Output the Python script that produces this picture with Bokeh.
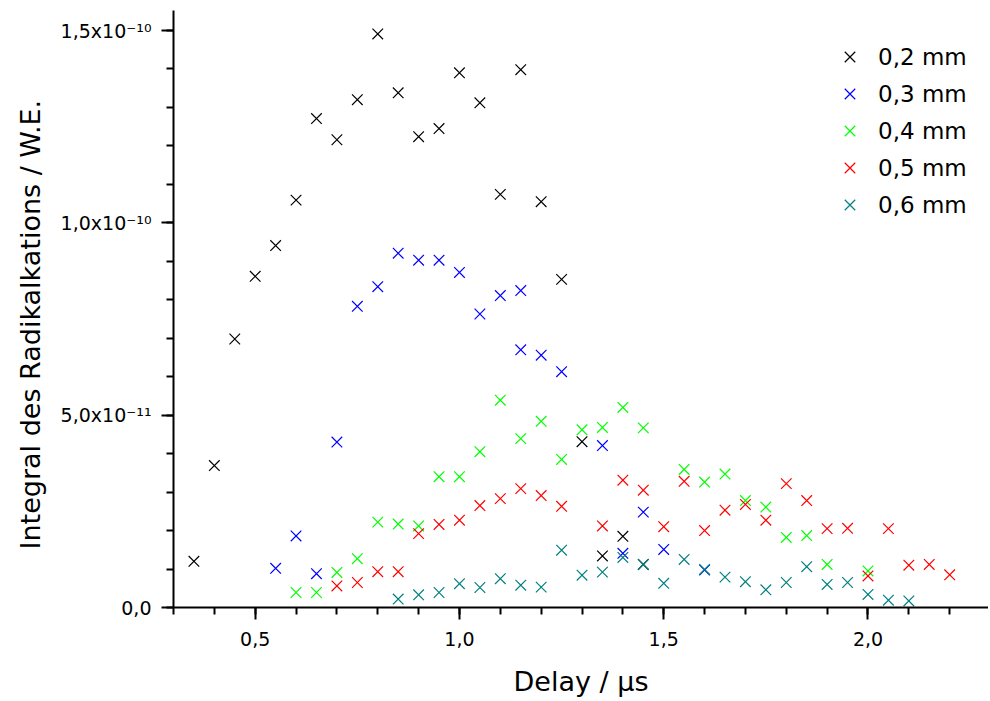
from bokeh.plotting import figure
from bokeh.models import Range1d, FixedTicker, Legend, LegendItem, Title
from bokeh.embed import file_html
from bokeh.resources import INLINE

# ---- data ----
series_labels = ["0,2 mm", "0,3 mm", "0,4 mm", "0,5 mm", "0,6 mm"]
series_colors = ["#000000", "#0000FF", "#00FF00", "#FF0000", "#008080"]

x_02 = [0.35, 0.40, 0.45, 0.50, 0.55, 0.60, 0.65, 0.70, 0.75, 0.80, 0.85, 0.90,
        0.95, 1.00, 1.05, 1.10, 1.15, 1.20, 1.25, 1.30, 1.35, 1.40, 1.45]
y_02 = [1.20e-11, 3.69e-11, 6.98e-11, 8.61e-11, 9.41e-11, 1.059e-10, 1.271e-10,
        1.216e-10, 1.32e-10, 1.491e-10, 1.338e-10, 1.224e-10, 1.245e-10, 1.39e-10,
        1.312e-10, 1.074e-10, 1.398e-10, 1.055e-10, 8.53e-11, 4.31e-11, 1.34e-11,
        1.85e-11, 1.12e-11]

x_03 = [0.55, 0.60, 0.65, 0.70, 0.75, 0.80, 0.85, 0.90, 0.95, 1.00, 1.05, 1.10,
        1.15, 1.15, 1.20, 1.25, 1.35, 1.40, 1.45, 1.50, 1.60]
y_03 = [1.02e-11, 1.86e-11, 8.8e-12, 4.30e-11, 7.83e-11, 8.34e-11, 9.21e-11,
        9.03e-11, 9.03e-11, 8.71e-11, 7.63e-11, 8.11e-11, 8.24e-11, 6.70e-11,
        6.56e-11, 6.13e-11, 4.21e-11, 1.41e-11, 2.48e-11, 1.51e-11, 9.75e-12]

x_04 = [0.60, 0.65, 0.70, 0.75, 0.80, 0.85, 0.90, 0.95, 1.00, 1.05, 1.10, 1.15,
        1.20, 1.25, 1.30, 1.35, 1.40, 1.45, 1.55, 1.60, 1.65, 1.70, 1.75, 1.80,
        1.85, 1.90, 2.00]
y_04 = [3.9e-12, 3.9e-12, 9.1e-12, 1.27e-11, 2.22e-11, 2.17e-11, 2.12e-11,
        3.40e-11, 3.40e-11, 4.05e-11, 5.39e-11, 4.39e-11, 4.84e-11, 3.85e-11,
        4.62e-11, 4.68e-11, 5.20e-11, 4.67e-11, 3.59e-11, 3.26e-11, 3.47e-11,
        2.78e-11, 2.61e-11, 1.82e-11, 1.87e-11, 1.12e-11, 9.5e-12]

x_05 = [0.70, 0.75, 0.80, 0.85, 0.90, 0.95, 1.00, 1.05, 1.10, 1.15, 1.20, 1.25,
        1.35, 1.40, 1.45, 1.50, 1.55, 1.60, 1.65, 1.70, 1.75, 1.80, 1.85, 1.90,
        1.95, 2.00, 2.05, 2.10, 2.15, 2.20]
y_05 = [5.6e-12, 6.5e-12, 9.3e-12, 9.3e-12, 1.92e-11, 2.16e-11, 2.27e-11,
        2.65e-11, 2.83e-11, 3.09e-11, 2.91e-11, 2.63e-11, 2.12e-11, 3.31e-11,
        3.05e-11, 2.10e-11, 3.28e-11, 2.00e-11, 2.53e-11, 2.68e-11, 2.27e-11,
        3.22e-11, 2.78e-11, 2.05e-11, 2.06e-11, 8.2e-12, 2.05e-11, 1.10e-11,
        1.12e-11, 8.5e-12]

x_06 = [0.85, 0.90, 0.95, 1.00, 1.05, 1.10, 1.15, 1.20, 1.25, 1.30, 1.35, 1.40,
        1.45, 1.50, 1.55, 1.60, 1.65, 1.70, 1.75, 1.80, 1.85, 1.90, 1.95, 2.00,
        2.05, 2.10]
y_06 = [2.2e-12, 3.3e-12, 3.9e-12, 6.2e-12, 5.2e-12, 7.5e-12, 5.8e-12, 5.3e-12,
        1.49e-11, 8.4e-12, 9.2e-12, 1.30e-11, 1.12e-11, 6.3e-12, 1.25e-11,
        9.9e-12, 7.9e-12, 6.7e-12, 4.6e-12, 6.5e-12, 1.06e-11, 6.0e-12, 6.5e-12,
        3.4e-12, 1.9e-12, 1.7e-12]

x_major_ticks = [0.5, 1.0, 1.5, 2.0]
x_tick_labels = ["0,5", "1,0", "1,5", "2,0"]
x_minor_ticks = [0.3, 0.4, 0.5, 0.6, 0.7, 0.8, 0.9, 1.0, 1.1, 1.2, 1.3, 1.4,
                 1.5, 1.6, 1.7, 1.8, 1.9, 2.0, 2.1, 2.2]
y_major_ticks = [0.0, 5e-11, 1e-10, 1.5e-10]
y_tick_labels = ["0,0", "5,0x10\u207b\u00b9\u00b9", "1,0x10\u207b\u00b9\u2070",
                 "1,5x10\u207b\u00b9\u2070"]
y_minor_ticks = [i * 1e-11 for i in range(0, 16)]

x_title = "Delay / \u00b5s"
y_title = "Integral des Radikalkations / W.E."

FONT = "DejaVu Sans"
X_START, X_END = 0.3, 2.295
Y_START, Y_END = 0.0, 1.552e-10

p = figure(width=988, height=699, output_backend="svg", toolbar_location=None,
           x_range=Range1d(X_START, X_END), y_range=Range1d(Y_START, Y_END),
           min_border_left=172, min_border_right=0, min_border_top=10,
           min_border_bottom=91)
p.outline_line_color = None
p.grid.visible = False
p.background_fill_color = "white"
p.border_fill_color = "white"

xs = [x_02, x_03, x_04, x_05, x_06]
ys = [y_02, y_03, y_04, y_05, y_06]
items = []
for xv, yv, col, lab in zip(xs, ys, series_colors, series_labels):
    r = p.scatter(xv, yv, marker="x", size=15, line_color=col, line_width=1.2)
    items.append(LegendItem(label=lab, renderers=[r]))

legend = Legend(items=items, location=(658, 384), padding=0, margin=0,
                border_line_color=None, background_fill_alpha=0,
                label_text_font=FONT, label_text_font_size="23px",
                label_text_color="black",
                label_standoff=10, glyph_width=37, glyph_height=37,
                label_height=37, spacing=0)
p.add_layout(legend)

for ax in (p.xaxis[0], p.yaxis[0]):
    ax.axis_line_width = 2
    ax.major_tick_line_width = 2
    ax.minor_tick_line_width = 2
    ax.major_tick_out = 12
    ax.major_tick_in = 0
    ax.minor_tick_out = 7
    ax.minor_tick_in = 0
    ax.major_label_text_font = FONT
    ax.major_label_text_font_size = "19px"
    ax.major_label_text_color = "black"
    ax.axis_label_text_font = FONT
    ax.axis_label_text_font_size = "27px"
    ax.axis_label_text_font_style = "normal"
    ax.axis_label_text_color = "black"

xa = p.xaxis[0]
xa.ticker = FixedTicker(ticks=x_major_ticks, minor_ticks=x_minor_ticks)
xa.major_label_overrides = dict(zip(x_major_ticks, x_tick_labels))
xa.major_label_standoff = 12
xa.axis_label = x_title
xa.axis_label_standoff = 17

ya = p.yaxis[0]
ya.ticker = FixedTicker(ticks=y_major_ticks, minor_ticks=y_minor_ticks)
ya.major_label_overrides = dict(zip(y_major_ticks, y_tick_labels))
ya.major_label_standoff = 10

# y title as a left-side Title so it can sit along the axis like the original
ytitle = Title(text=y_title, align="left", offset=58, standoff=24,
               text_font=FONT, text_font_size="27px", text_font_style="normal",
               text_color="black")
p.add_layout(ytitle, "left")

open("out.html", "w").write(file_html(p, INLINE))
